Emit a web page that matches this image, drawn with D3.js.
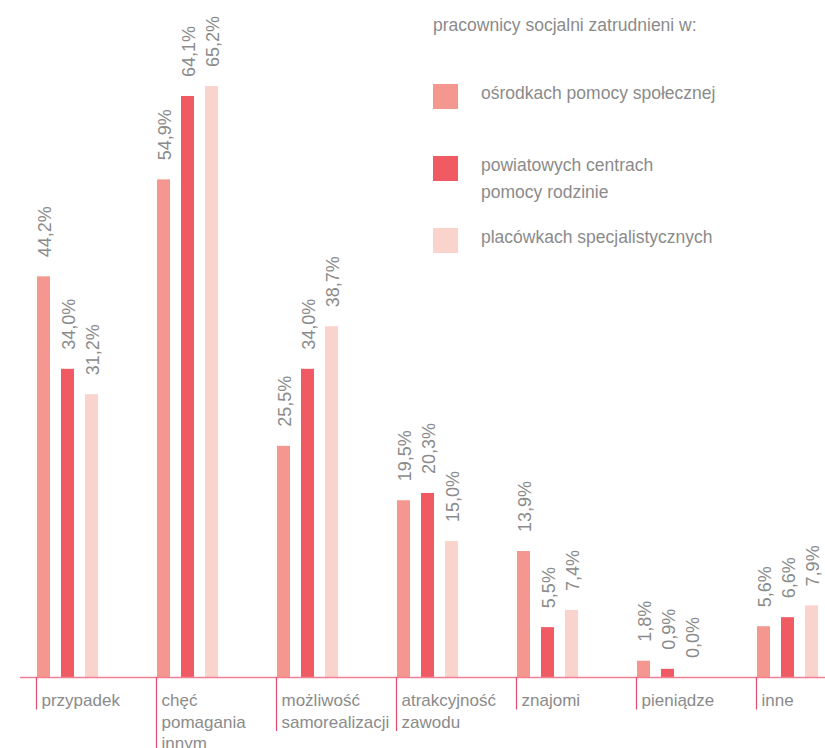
<!DOCTYPE html>
<html>
<head>
<meta charset="utf-8">
<script src="https://cdn.jsdelivr.net/npm/d3@7"></script>
<style>
  html, body { margin: 0; padding: 0; background: #fff; }
  svg { display: block; }
  .lbl { font-family: "Liberation Sans", Arial, sans-serif; fill: #8b8b8b; }
</style>
</head>
<body>
<svg id="chart" width="825" height="748"></svg>
<script>
// Reasons for choosing the profession, by place of employment (%)
const categories = ["przypadek", "chęć\npomagania\ninnym", "możliwość\nsamorealizacji",
                    "atrakcyjność\nzawodu", "znajomi", "pieniądze", "inne"];
const seriesNames = ["ośrodkach pomocy społecznej", "powiatowych centrach\npomocy rodzinie",
                     "placówkach specjalistycznych"];
const seriesColors = ["#f4978e", "#f05b63", "#fad3cc"];
const opsValues  = [44.2, 54.9, 25.5, 19.5, 13.9, 1.8, 5.6];
const pcprValues = [34.0, 64.1, 34.0, 20.3, 5.5, 0.9, 6.6];
const specValues = [31.2, 65.2, 38.7, 15.0, 7.4, 0.0, 7.9];
const legendTitle = "pracownicy socjalni zatrudnieni w:";

const series = [opsValues, pcprValues, specValues];
const fmt = v => v.toFixed(1).replace(".", ",") + "%";

const svg = d3.select("#chart");
const baseY = 677;

const x0 = d3.scaleBand().domain(categories).range([37, 37 + 120 * categories.length]);
const x1 = d3.scaleBand().domain(d3.range(series.length)).range([0, 61]).paddingInner(11 / 24);
const y = d3.scaleLinear().domain([0, 65.2]).range([baseY, 86]);

const rows = categories.map((c, i) => ({ cat: c, vals: series.map((s, k) => ({ k, v: s[i] })) }));

const groups = svg.append("g").selectAll("g").data(rows).join("g")
  .attr("transform", d => `translate(${x0(d.cat)},0)`);

// bars
groups.selectAll("rect").data(d => d.vals).join("rect")
  .attr("x", d => x1(d.k))
  .attr("width", x1.bandwidth())
  .attr("y", d => y(d.v))
  .attr("height", d => baseY - y(d.v))
  .attr("fill", d => seriesColors[d.k]);

// rotated value labels above each bar
groups.selectAll("text.val").data(d => d.vals).join("text")
  .attr("class", "lbl val")
  .attr("transform", d => `translate(${x1(d.k) + x1.bandwidth() / 2 + 7.5},${y(d.v) - 19}) rotate(-90)`)
  .attr("font-size", 18)
  .text(d => fmt(d.v));

// baseline
svg.append("line")
  .attr("x1", 20).attr("x2", 825)
  .attr("y1", baseY + 0.5).attr("y2", baseY + 0.5)
  .attr("stroke", "#f17f95").attr("stroke-width", 1.6);

// category ticks and labels
const lineH = 21.5;
const cats = svg.append("g").selectAll("g").data(categories).join("g")
  .attr("transform", d => `translate(${x0(d) - 0.5},0)`);

cats.append("line")
  .attr("x1", 0).attr("x2", 0)
  .attr("y1", baseY)
  .attr("y2", d => baseY + d.split("\n").length * lineH + 11)
  .attr("stroke", "#e04a6c").attr("stroke-width", 1.2);

cats.append("text")
  .attr("class", "lbl")
  .attr("font-size", 17)
  .selectAll("tspan").data(d => d.split("\n")).join("tspan")
  .attr("x", 5)
  .attr("y", (d, i) => 706 + i * lineH)
  .text(d => d);

// legend
const legend = svg.append("g").attr("transform", "translate(433,0)");
legend.append("text").attr("class", "lbl").attr("font-size", 17.5)
  .attr("x", 0).attr("y", 31).text(legendTitle);

const ly = d3.scalePoint().domain(d3.range(seriesNames.length)).range([84, 228]);
const items = legend.selectAll("g.item").data(seriesNames).join("g")
  .attr("class", "item")
  .attr("transform", (d, i) => `translate(0,${ly(i)})`);
items.append("rect").attr("width", 25).attr("height", 25)
  .attr("fill", (d, i) => seriesColors[i]);
items.append("text").attr("class", "lbl").attr("font-size", 17.5)
  .selectAll("tspan").data(d => d.split("\n")).join("tspan")
  .attr("x", 48)
  .attr("y", (d, i) => 14.5 + i * 27)
  .text(d => d);
</script>
</body>
</html>
